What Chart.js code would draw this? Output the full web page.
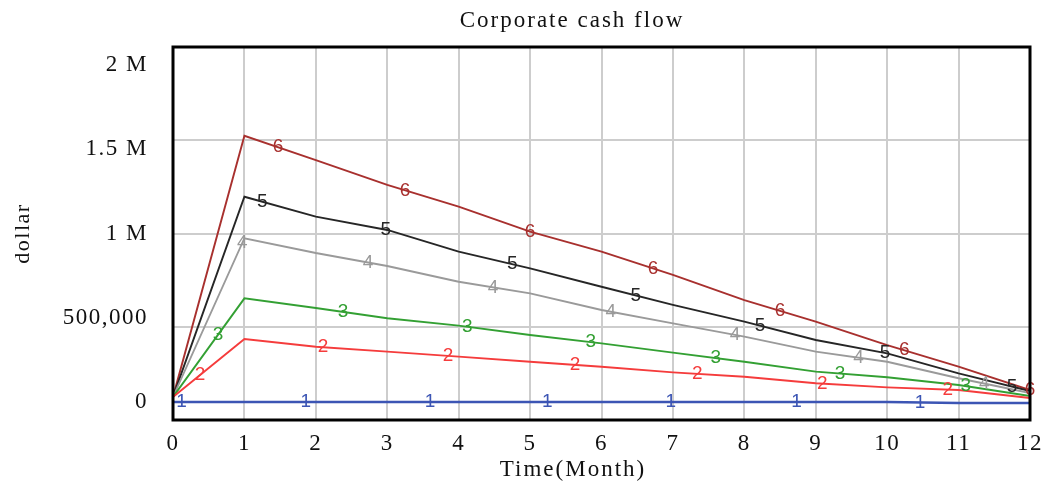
<!DOCTYPE html>
<html>
<head>
<meta charset="utf-8">
<title>Corporate cash flow</title>
<script src="https://cdn.jsdelivr.net/npm/chart.js@4/dist/chart.umd.min.js"></script>
<style>
  html, body { margin: 0; padding: 0; background: #fff; }
  #wrap { width: 1048px; height: 489px; position: relative; }
</style>
</head>
<body>
<div id="wrap"><canvas id="myChart"></canvas></div>
<script>
'use strict';

// chart values (dollars per month)
var months = [0, 1, 2, 3, 4, 5, 6, 7, 8, 9, 10, 11, 12];
var series1 = [0, 0, 0, 0, 0, 0, 0, 0, 0, 0, 0, -6000, -6000];
var series2 = [30000, 374000, 328000, 299000, 269000, 239000, 209000, 176000, 150000, 111000, 87000, 71000, 24000];
var series3 = [30000, 615000, 558000, 497000, 453000, 398000, 348000, 293000, 239000, 180000, 147000, 101000, 36000];
var series4 = [30000, 972000, 884000, 807000, 714000, 645000, 546000, 467000, 388000, 299000, 239000, 141000, 53000];
var series5 = [30000, 1218000, 1100000, 1021000, 892000, 793000, 684000, 576000, 477000, 368000, 289000, 170000, 65000];
var series6 = [30000, 1580000, 1436000, 1288000, 1159000, 1011000, 892000, 754000, 605000, 477000, 338000, 210000, 71000];

// y tick labels
var yTickValues = [0, 500000, 1000000, 1500000, 2000000];
var yTickLabels = ['0', '500,000', '1 M', '1.5 M', '2 M'];
// x positions (months) of the number markers on each line
var markerMonths = [
  [0.12, 1.86, 3.6, 5.24, 6.97, 8.73, 10.46],
  [0.38, 2.1, 3.85, 5.63, 7.34, 9.09, 10.85],
  [0.63, 2.38, 4.12, 5.85, 7.6, 9.34, 11.1],
  [0.97, 2.73, 4.48, 6.13, 7.87, 9.6, 11.36],
  [1.25, 2.98, 4.75, 6.48, 8.22, 9.97, 11.75],
  [1.47, 3.25, 5.0, 6.72, 8.5, 10.24, 12.0]
];

var allSeries = [series1, series2, series3, series4, series5, series6];
var colors = ['#3c55b4', '#f53c3c', '#33a033', '#9a9a9a', '#262626', '#a8302e'];
var serif = '"Liberation Serif", "Times New Roman", serif';

function toPoints(vals) {
  return months.map(function (m, i) { return { x: m, y: vals[i] }; });
}

var spacing = {
  id: 'spacing',
  beforeUpdate: function (chart) { chart.ctx.letterSpacing = '1.5px'; },
  beforeDraw: function (chart) { chart.ctx.letterSpacing = '1.5px'; }
};

// numbered markers along each line, like the simulation tool draws them
var markers = {
  id: 'markers',
  afterDatasetsDraw: function (chart) {
    var ctx = chart.ctx, x = chart.scales.x, y = chart.scales.y;
    ctx.save();
    ctx.letterSpacing = '0px';
    ctx.font = '19px "Liberation Sans", Arial, sans-serif';
    ctx.textAlign = 'center';
    ctx.textBaseline = 'middle';
    allSeries.forEach(function (vals, i) {
      ctx.fillStyle = colors[i];
      markerMonths[i].forEach(function (m) {
        var k = Math.min(Math.floor(m), months.length - 2);
        var t = m - months[k];
        var v = vals[k] + (vals[k + 1] - vals[k]) * t;
        ctx.fillText(String(i + 1), x.getPixelForValue(m), y.getPixelForValue(v));
      });
    });
    ctx.restore();
  }
};

var frame = {
  id: 'frame',
  afterDraw: function (chart) {
    var ctx = chart.ctx, a = chart.chartArea;
    ctx.save();
    ctx.strokeStyle = '#000';
    ctx.lineWidth = 3;
    ctx.strokeRect(a.left, a.top, a.right - a.left, a.bottom - a.top);
    ctx.fillStyle = '#111';
    ctx.letterSpacing = '2px';
    ctx.textAlign = 'center';
    ctx.textBaseline = 'middle';
    ctx.font = '23px ' + serif;
    ctx.fillText('Corporate cash flow', 572, 21);
    ctx.fillText('Time(Month)', 573, 470);
    ctx.restore();
  }
};

var ctx = document.getElementById('myChart');
var myChart = new Chart(ctx, {
  type: 'line',
  data: {
    datasets: allSeries.map(function (vals, i) {
      return {
        label: String(i + 1),
        data: toPoints(vals),
        borderColor: colors[i],
        backgroundColor: colors[i],
        borderWidth: i === 0 ? 2.6 : 1.9,
        pointRadius: 0,
        tension: 0,
        fill: false
      };
    })
  },
  options: {
    responsive: true,
    maintainAspectRatio: false,
    animation: false,
    layout: { padding: { top: 47, left: 0, right: 0, bottom: 0 } },
    plugins: {
      legend: { display: false },
      title: { display: false },
      tooltip: { enabled: false }
    },
    scales: {
      x: {
        type: 'linear',
        min: 0,
        max: 12,
        ticks: { stepSize: 1, padding: 10, color: '#111', font: { family: serif, size: 23 } },
        grid: { color: '#cdcdcd', lineWidth: 2, drawTicks: false },
        border: { display: false },
        afterFit: function (scale) {
          scale.height = 69;
          scale.paddingLeft = 0;
          scale.paddingRight = 0;
        }
      },
      y: {
        type: 'linear',
        position: 'left',
        min: -106800,
        max: 2106800,
        afterBuildTicks: function (scale) {
          scale.ticks = yTickValues.map(function (v) { return { value: v }; });
        },
        ticks: {
          padding: 25,
          color: '#111',
          font: { family: serif, size: 23 },
          callback: function (value, index) { return yTickLabels[index]; }
        },
        grid: { display: false, drawTicks: false },
        border: { display: false },
        title: { display: true, text: 'dollar', color: '#111', font: { family: serif, size: 22 }, padding: { top: 10, bottom: 0 } },
        afterFit: function (scale) {
          scale.width = 173;
          scale.paddingTop = 0;
          scale.paddingBottom = 0;
        }
      },
      yGrid: {
        type: 'linear',
        position: 'right',
        min: 0,
        max: 2000000,
        ticks: { display: false, stepSize: 500000 },
        grid: { color: '#cdcdcd', lineWidth: 2, drawTicks: false },
        border: { display: false },
        afterFit: function (scale) { scale.width = 18; }
      }
    }
  },
  plugins: [spacing, markers, frame]
});
</script>
</body>
</html>
